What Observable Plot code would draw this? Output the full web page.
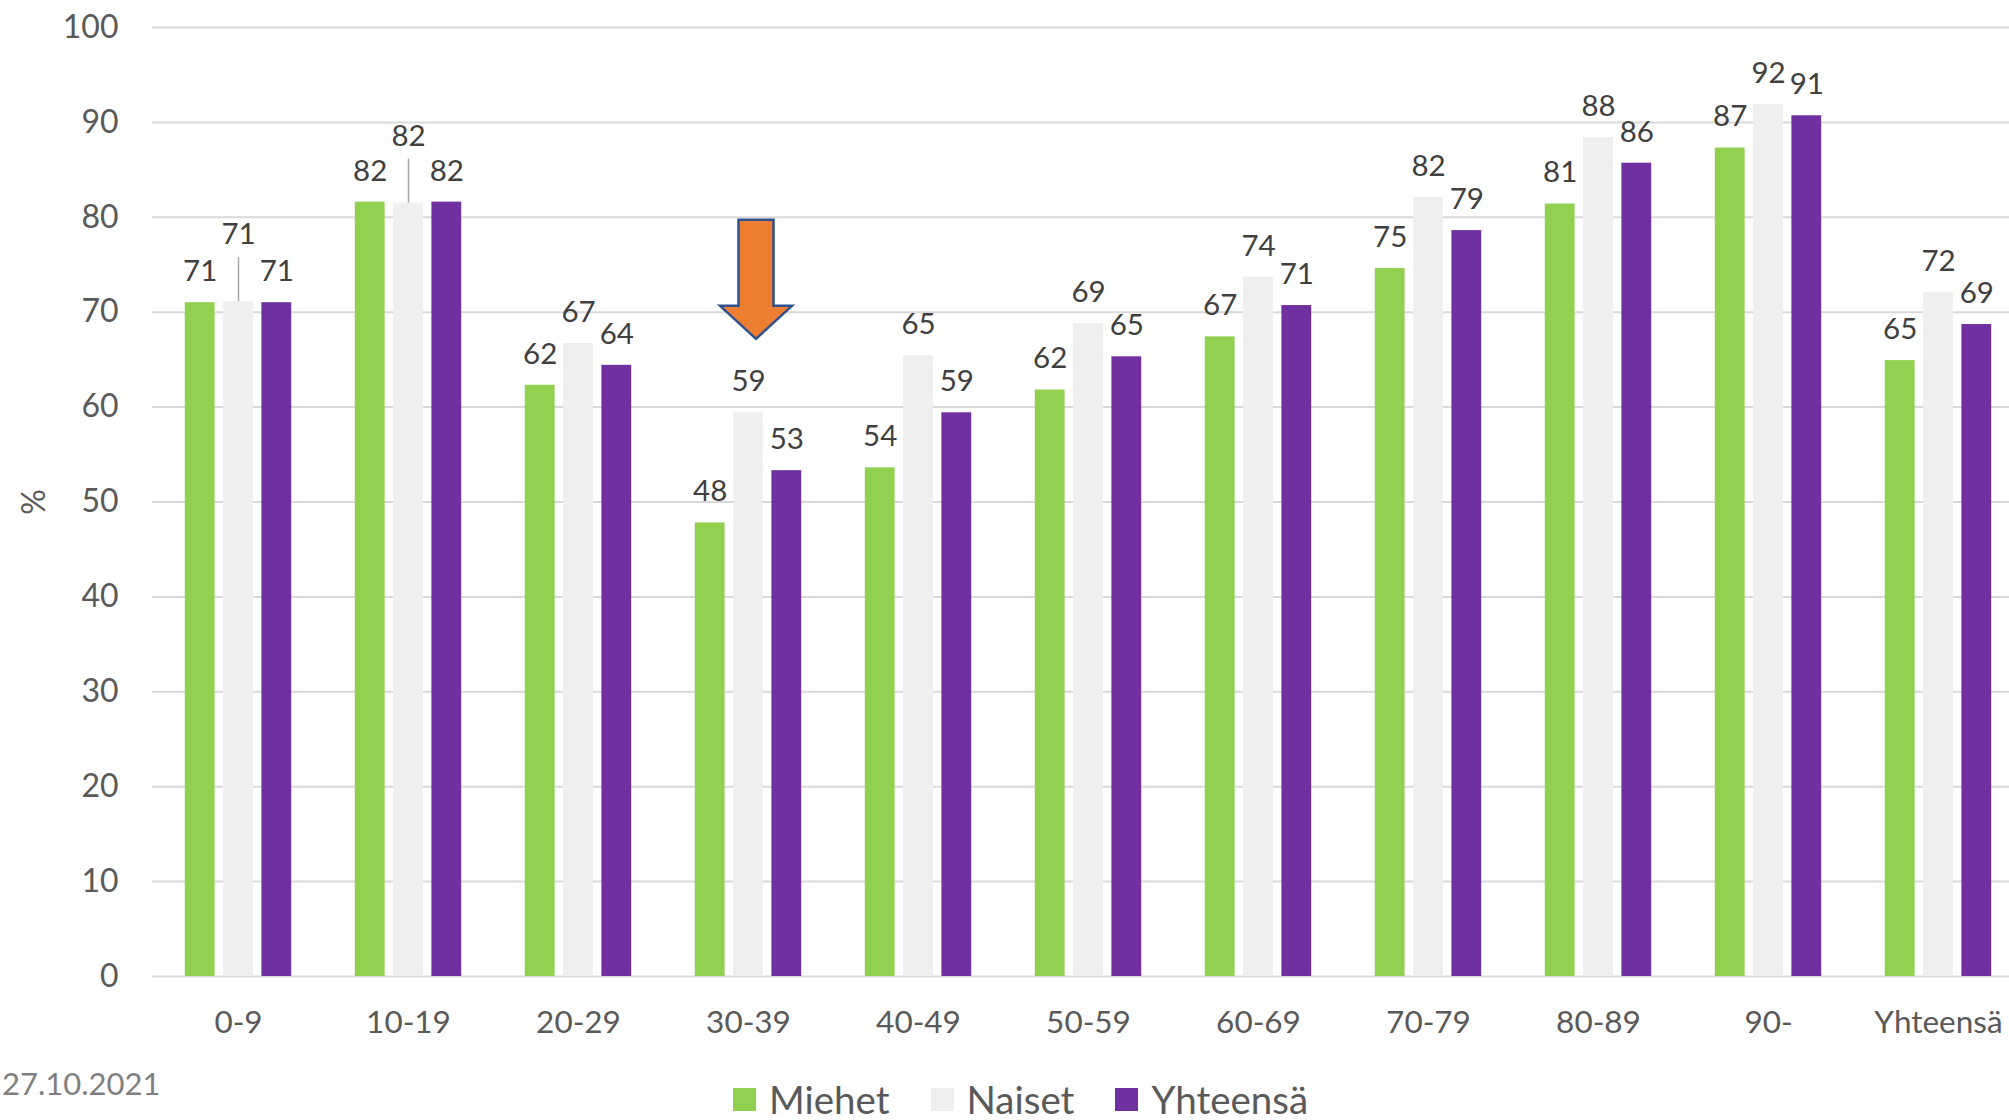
<!DOCTYPE html>
<html>
<head>
<meta charset="utf-8">
<script src="https://cdn.jsdelivr.net/npm/d3@7"></script>
<script src="https://cdn.jsdelivr.net/npm/@observablehq/plot@0.6"></script>
<style>
  html, body { margin: 0; padding: 0; background: #ffffff; overflow: hidden; }
  body { width: 2009px; height: 1120px; font-family: Lato, "Open Sans", sans-serif; }
  #chart svg { display: block; overflow: hidden; }
  #footer { position: relative; width: 2009px; height: 70px; }
  #date { position: absolute; left: 2px; top: 18px; font-size: 31px; line-height: 1; color: #7f7f7f; }
  #legend { position: absolute; left: 733px; top: 30px; display: flex; align-items: center; font-size: 38.5px; line-height: 1; color: #595959; }
  .item { display: flex; align-items: center; margin-right: 41px; }
  .swatch { width: 23px; height: 23px; margin-right: 13px; }
</style>
</head>
<body>
<div id="chart"></div>
<div id="footer">
  <div id="date"></div>
  <div id="legend"></div>
</div>
<script>
const categories = ["0-9", "10-19", "20-29", "30-39", "40-49", "50-59", "60-69", "70-79", "80-89", "90-", "Yhteensä"];
const miehet   = [71.0, 81.6, 62.3, 47.8, 53.6, 61.8, 67.4, 74.6, 81.4, 87.3, 64.9];
const naiset   = [71.1, 81.5, 66.7, 59.4, 65.4, 68.8, 73.7, 82.1, 88.4, 91.9, 72.1];
const yhteensa = [71.0, 81.6, 64.4, 53.3, 59.4, 65.3, 70.7, 78.6, 85.7, 90.7, 68.7];
const seriesNames = ["Miehet", "Naiset", "Yhteensä"];
const seriesColors = ["#92d050", "#efefef", "#7030a0"];
const yTicks = [0, 10, 20, 30, 40, 50, 60, 70, 80, 90, 100];
const yLabel = "%";
const dateText = "27.10.2021";
const arrowCategory = "30-39";

const seriesValues = [miehet, naiset, yhteensa];
const rows = [];
seriesNames.forEach((s, si) => categories.forEach((c, ci) => rows.push({series: s, si, category: c, value: seriesValues[si][ci]})));

const W = 2009, H = 1050, mTop = 27, mBottom = 74, mLeft = 152, mRight = -15;
const pxPerUnit = (H - mTop - mBottom) / 100;
const step = (W - mRight - mLeft) / categories.length;
const barW = 30, barStep = 38.3;
const inset = (step - barW) / 2;

// a Naiset label is lifted (with a leader line) when it would collide with both neighbours
const lifted = categories
  .map((c, ci) => ({category: c, value: naiset[ci], m: miehet[ci], y: yhteensa[ci]}))
  .filter(d => Math.abs(d.value - d.m) < 2 && Math.abs(d.value - d.y) < 2);
const liftedSet = new Set(lifted.map(d => d.category));

const marks = [
  Plot.gridY(yTicks, {stroke: "#d9d9d9", strokeOpacity: 1, strokeWidth: 2})
];
seriesNames.forEach((s, si) => {
  const data = rows.filter(r => r.si === si);
  const dx = (si - 1) * barStep;
  marks.push(Plot.barY(data, {x: "category", y: "value", fill: seriesColors[si], dx, insetLeft: inset, insetRight: inset}));
  marks.push(Plot.text(data.filter(d => !(si === 1 && liftedSet.has(d.category))), {
    x: "category", y: "value", text: d => d3.format(".0f")(d.value), dx, dy: -31,
    fontSize: 29.5, fill: "#404040"
  }));
});
marks.push(Plot.ruleX(lifted, {x: "category", y1: "value", y2: d => d.value + 44 / pxPerUnit, stroke: "#a6a6a6", strokeWidth: 1.5}));
marks.push(Plot.text(lifted, {x: "category", y: "value", text: d => d3.format(".0f")(d.value), dy: -67, fontSize: 29.5, fill: "#404040"}));
marks.push(Plot.axisX({tickSize: 0, tickPadding: 34, fontSize: 31.5, color: "#595959", label: null}));
marks.push(Plot.axisY(yTicks, {tickSize: 0, tickPadding: 34, fontSize: 32, color: "#595959", label: yLabel, labelAnchor: "center", labelOffset: 130, labelArrow: "none"}));
// block arrow annotation pointing at the 30-39 group
marks.push((index, scales) => {
  const x = scales.x, y = scales.y;
  const cx = x(arrowCategory) + (x.bandwidth ? x.bandwidth() / 2 : 0) + 8;
  const top = y(80) + 3, headStart = top + 86, tip = top + 119;
  const sw = 17.5, hw = 36;
  const d = `M${cx - sw},${top}H${cx + sw}V${headStart}H${cx + hw}L${cx},${tip}L${cx - hw},${headStart}H${cx - sw}Z`;
  const p = document.createElementNS("http://www.w3.org/2000/svg", "path");
  p.setAttribute("d", d);
  p.setAttribute("fill", "#ed7d31");
  p.setAttribute("stroke", "#2f528f");
  p.setAttribute("stroke-width", "2.5");
  p.setAttribute("stroke-linejoin", "miter");
  return p;
});

const chart = Plot.plot({
  width: W, height: H,
  marginTop: mTop, marginBottom: mBottom, marginLeft: mLeft, marginRight: mRight,
  x: {domain: categories, padding: 0},
  y: {domain: [0, 100]},
  style: {fontFamily: "Lato, 'Open Sans', sans-serif", background: "white", color: "#595959"},
  marks
});
document.getElementById("chart").appendChild(chart);

document.getElementById("date").textContent = dateText;
const legend = document.getElementById("legend");
seriesNames.forEach((s, i) => {
  const item = document.createElement("div");
  item.className = "item";
  const sw = document.createElement("div");
  sw.className = "swatch";
  sw.style.background = seriesColors[i];
  const t = document.createElement("span");
  t.textContent = s;
  item.appendChild(sw); item.appendChild(t);
  legend.appendChild(item);
});
</script>
</body>
</html>
